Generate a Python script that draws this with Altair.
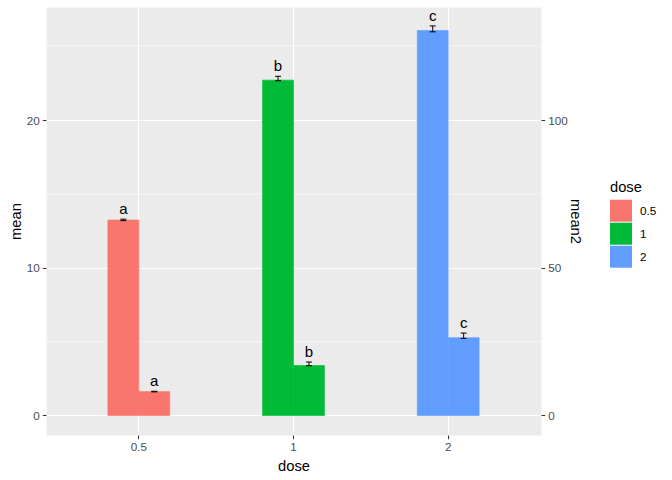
import altair as alt
import pandas as pd

doses = ["0.5", "1", "2"]
colors = ["#F8766D", "#00BA38", "#619CFF"]

mean_vals = [13.23, 22.70, 26.06]
mean_lo = [13.19, 22.66, 25.97]
mean_hi = [13.29, 22.96, 26.37]
mean_letters = ["a", "b", "c"]

mean2_vals = [8.1, 16.9, 26.35]
mean2_lo = [8.0, 16.85, 26.1]
mean2_hi = [8.2, 18.1, 27.9]
mean2_letters = ["a", "b", "c"]

left_ticks = [0, 10, 20]
left_minor = [5, 15, 25]
right_ticks = [0, 50, 100]
left_domain = [-1.32, 27.65]
sec_factor = 5
right_domain = [v * sec_factor for v in left_domain]

FONT = "Liberation Sans"

df_l = pd.DataFrame({"dose": doses, "val": mean_vals, "lo": mean_lo, "hi": mean_hi,
                     "lab": mean_letters, "grp": "mean"})
df_r = pd.DataFrame({"dose": doses, "val": mean2_vals, "lo": mean2_lo, "hi": mean2_hi,
                     "lab": mean2_letters, "grp": "mean2"})
df_minor = pd.DataFrame({"v": left_minor})

x_enc = alt.X("dose:N", scale=alt.Scale(domain=doses, paddingInner=0.6, paddingOuter=0.4),
              axis=alt.Axis(title="dose", grid=True, bandPosition=0.5, labelAngle=0,
                            labelPadding=3, titleY=35, titleBaseline="alphabetic"))
xoff_enc = alt.XOffset("grp:N", scale=alt.Scale(domain=["mean", "mean2"], paddingInner=0, paddingOuter=0))
color_enc = alt.Color("dose:N", scale=alt.Scale(domain=doses, range=colors),
                      legend=alt.Legend(title="dose"))
stroke_enc = alt.Stroke("dose:N", scale=alt.Scale(domain=doses, range=colors), legend=None)

left_scale = alt.Scale(domain=left_domain, nice=False, zero=False)
right_scale = alt.Scale(domain=right_domain, nice=False, zero=False)
left_axis = alt.Axis(title="mean", values=left_ticks, grid=True, labelPadding=3,
                     titleX=-26, titleBaseline="alphabetic")
right_axis = alt.Axis(title="mean2", values=right_ticks, grid=False, orient="right",
                      labelPadding=3, titleX=29, titleBaseline="alphabetic", titleAngle=90)


def group(df, scale, axis, title):
    def Y(field):
        return alt.Y(field, scale=scale, axis=axis, title=title)
    bars = alt.Chart(df).mark_bar(strokeWidth=0.6).encode(
        x=x_enc, xOffset=xoff_enc, y=Y("val:Q"), color=color_enc, stroke=stroke_enc)
    rule = alt.Chart(df).mark_rule(color="black", strokeWidth=1).encode(
        x=x_enc, xOffset=xoff_enc, y=Y("lo:Q"), y2=alt.Y2("hi:Q"))
    cap_hi = alt.Chart(df).mark_tick(color="black", thickness=1, size=6, opacity=1).encode(
        x=x_enc, xOffset=xoff_enc, y=Y("hi:Q"))
    cap_lo = alt.Chart(df).mark_tick(color="black", thickness=1, size=6, opacity=1).encode(
        x=x_enc, xOffset=xoff_enc, y=Y("lo:Q"))
    text = alt.Chart(df).mark_text(dy=-5, baseline="alphabetic", fontSize=15, font=FONT,
                                   color="black").encode(
        x=x_enc, xOffset=xoff_enc, y=Y("hi:Q"), text="lab:N")
    return [bars, rule, cap_hi, cap_lo, text]


minor = alt.Chart(df_minor).mark_rule(color="white", strokeWidth=0.55).encode(
    y=alt.Y("v:Q", scale=left_scale, axis=left_axis, title="mean"))

left = alt.layer(minor, *group(df_l, left_scale, left_axis, "mean"))
right = alt.layer(*group(df_r, right_scale, right_axis, "mean2"))

chart = alt.layer(left, right).resolve_scale(y="independent").properties(
    width=495, height=428,
    autosize=alt.AutoSizeParams(type="none"),
    padding={"left": 46, "top": 7, "right": 131, "bottom": 45},
).configure_view(
    fill="#EBEBEB", stroke="transparent"
).configure_axis(
    domain=False, labelFont=FONT, labelFontSize=11.7, labelColor="#4D4D4D",
    tickColor="#333333", tickSize=3.67, tickWidth=1.07,
    titleFont=FONT, titleFontSize=14.7, titleColor="black", titleFontWeight="normal",
    gridColor="white", gridWidth=1.07,
).configure_legend(
    orient="none", legendX=564, legendY=173,
    titleFont=FONT, titleFontSize=14.7, titleColor="black", titleFontWeight="normal",
    labelFont=FONT, labelFontSize=11.7, labelColor="black",
    symbolType="square", symbolSize=484, symbolStrokeWidth=0, symbolOpacity=1,
    rowPadding=1, labelOffset=8, titlePadding=5,
)

chart.save("out.html", embed_options={"renderer": "svg", "actions": False})
